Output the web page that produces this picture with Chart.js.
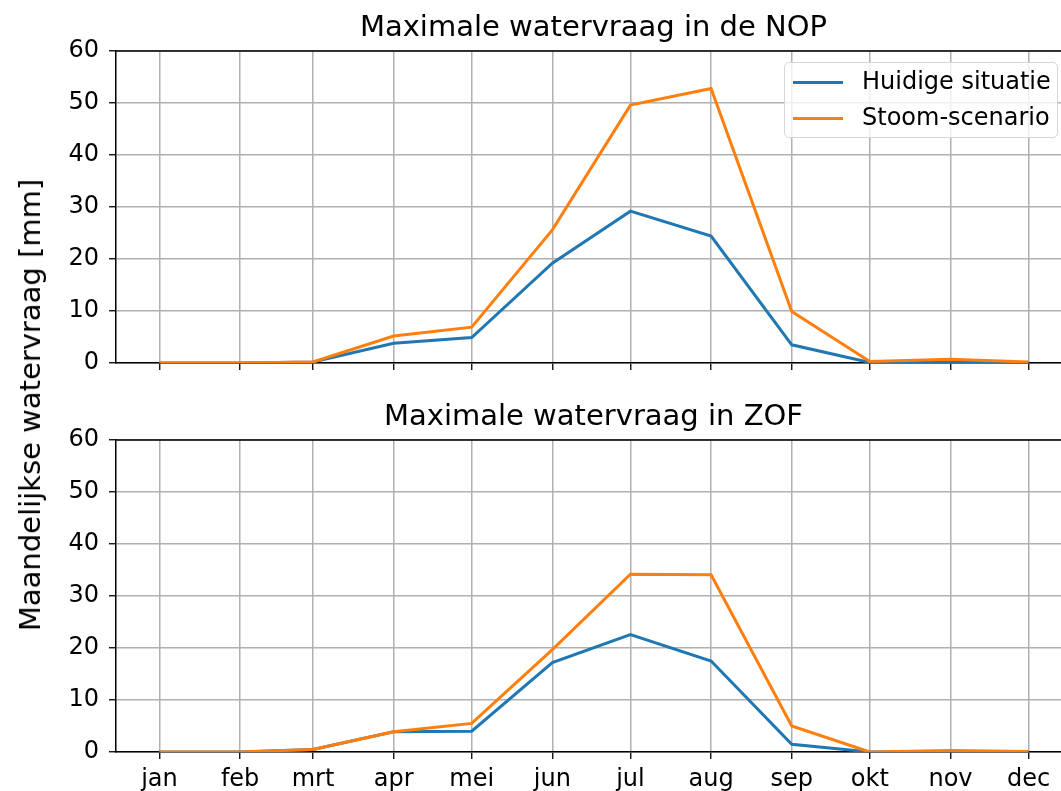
<!DOCTYPE html>
<html>
<head>
<meta charset="utf-8">
<script src="https://cdn.jsdelivr.net/npm/chart.js@4/dist/chart.umd.min.js"></script>
<style>
  html, body { margin: 0; padding: 0; background: #fff; overflow: hidden; }
  #wrap { position: relative; width: 1061px; height: 791px; overflow: hidden; font-family: "DejaVu Sans", sans-serif; }
  canvas { position: absolute; left: 0; }
  .titel { position: absolute; left: 116px; width: 955px; text-align: center; font-size: 29px; color: #000; white-space: nowrap; }
  #ylabel { position: absolute; left: 30px; top: 405px; font-size: 29px; white-space: nowrap;
            transform: translate(-50%, -50%) rotate(-90deg); }
  #legenda { position: absolute; left: 784px; top: 62px; width: 274px; height: 76px; border: 1px solid #d6d6d6;
             border-radius: 5px; background: rgba(255,255,255,0.8); font-size: 24px; box-sizing: border-box; }
  .item { position: absolute; left: 8px; height: 28px; line-height: 28px; white-space: nowrap; }
  .item span { display: inline-block; width: 50px; height: 3px; vertical-align: middle; margin-right: 19px; }
</style>
</head>
<body>
<div id="wrap">
  <canvas id="boven" width="1072" height="390" style="top:0"></canvas>
  <canvas id="onder" width="1072" height="411" style="top:380px"></canvas>
  <div class="titel" style="top:9px">Maximale watervraag in de NOP</div>
  <div class="titel" style="top:398px">Maximale watervraag in ZOF</div>
  <div id="ylabel">Maandelijkse watervraag [mm]</div>
  <div id="legenda"></div>
</div>
<script>
// maanden en positie in het jaar (dag van het jaar, 1e van de maand)
const maanden = ['jan', 'feb', 'mrt', 'apr', 'mei', 'jun', 'jul', 'aug', 'sep', 'okt', 'nov', 'dec'];
const dagVanJaar = [0, 31, 59, 90, 120, 151, 181, 212, 243, 273, 304, 334];

// waarden [mm]
const nopHuidig = [0, 0, 0.2, 3.8, 4.9, 19.2, 29.2, 24.4, 3.5, 0.1, 0.3, 0];
const nopStoom  = [0, 0, 0.2, 5.2, 6.9, 25.6, 49.6, 52.8, 9.9, 0.3, 0.7, 0.2];
const zofHuidig = [0, 0, 0.5, 3.9, 4.0, 17.2, 22.6, 17.5, 1.5, 0, 0.1, 0];
const zofStoom  = [0, 0, 0.5, 3.9, 5.5, 19.7, 34.2, 34.1, 5.0, 0, 0.3, 0.1];
const yTicks = [0, 10, 20, 30, 40, 50, 60];

const reeksNamen = ['Huidige situatie', 'Stoom-scenario'];
const kleuren = ['#1f77b4', '#ff7f0e'];

// legenda
const legenda = document.getElementById('legenda');
reeksNamen.forEach((naam, i) => {
    legenda.innerHTML += `<div class="item" style="top:${4 + i * 36}px"><span style="background:${kleuren[i]}"></span>${naam}</div>`;
});

// bovenste en rechter as-lijn (spines)
const kader = {
    id: 'kader',
    afterDraw(chart) {
        const { ctx, chartArea } = chart;
        ctx.save();
        ctx.strokeStyle = '#000';
        ctx.lineWidth = 1.5;
        ctx.beginPath();
        ctx.moveTo(chartArea.left, chartArea.top);
        ctx.lineTo(chartArea.right, chartArea.top);
        ctx.lineTo(chartArea.right, chartArea.bottom);
        ctx.stroke();
        ctx.restore();
    }
};

function punten(waarden) {
    return waarden.map((v, i) => ({ x: dagVanJaar[i], y: v }));
}

function maakGrafiek(id, huidig, stoom, labels, padTop, xHoogte) {
    const font = { family: 'DejaVu Sans', size: 24 };
    new Chart(document.getElementById(id), {
        type: 'line',
        data: {
            datasets: [huidig, stoom].map((w, i) => ({
                label: reeksNamen[i],
                data: punten(w),
                borderColor: kleuren[i],
                borderWidth: 3,
                pointRadius: 0,
                tension: 0,
                order: 1 - i
            }))
        },
        options: {
            responsive: false,
            animation: false,
            layout: { padding: { top: padTop, left: 0, right: 0, bottom: 0 } },
            plugins: { legend: { display: false }, tooltip: { enabled: false } },
            scales: {
                x: {
                    type: 'linear',
                    min: -16.7,
                    max: 350.7,
                    afterBuildTicks: s => { s.ticks = dagVanJaar.map(v => ({ value: v })); },
                    afterFit: s => { s.height = xHoogte; },
                    ticks: {
                        display: labels,
                        autoSkip: false,
                        maxRotation: 0,
                        color: '#000',
                        font: font,
                        padding: 6,
                        callback: v => maanden[dagVanJaar.indexOf(v)]
                    },
                    grid: { color: '#b0b0b0', lineWidth: 1.5, tickLength: 7, tickColor: '#000', tickWidth: 1.3 },
                    border: { color: '#000', width: 1.5 }
                },
                y: {
                    min: 0,
                    max: 60,
                    afterBuildTicks: s => { s.ticks = yTicks.map(v => ({ value: v })); },
                    afterFit: s => { s.width = 116; },
                    ticks: { color: '#000', font: font, padding: 10 },
                    grid: { color: '#b0b0b0', lineWidth: 1.5, tickLength: 7, tickColor: '#000', tickWidth: 1.3 },
                    border: { color: '#000', width: 1.5 }
                }
            }
        },
        plugins: [kader]
    });
}

maakGrafiek('boven', nopHuidig, nopStoom, false, 51, 27);
maakGrafiek('onder', zofHuidig, zofStoom, true, 60, 39);
</script>
</body>
</html>
